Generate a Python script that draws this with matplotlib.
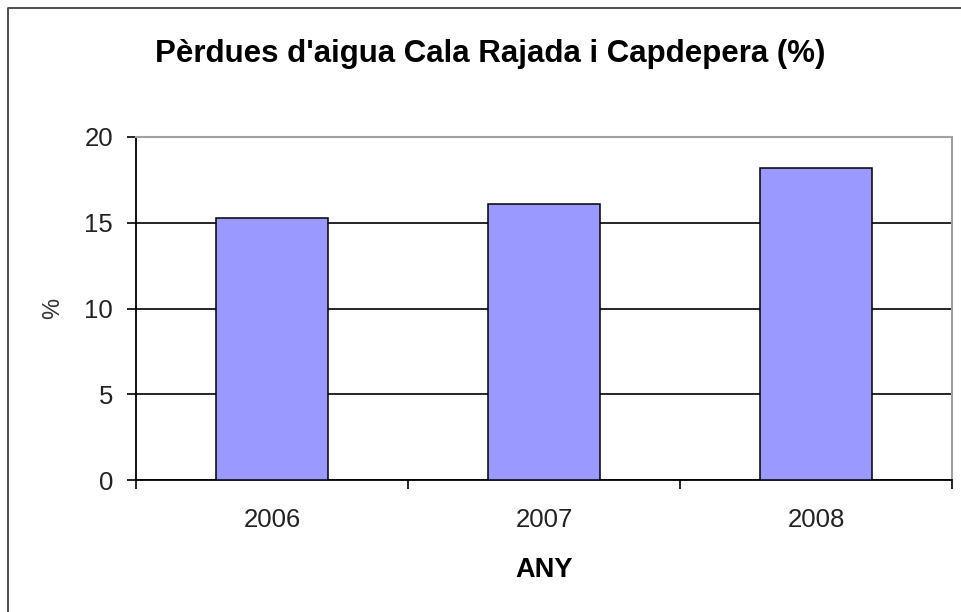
import numpy as np
import matplotlib
matplotlib.use("Agg")
import matplotlib.pyplot as plt
from matplotlib.lines import Line2D

plt.rcParams['font.family'] = ['Liberation Sans', 'DejaVu Sans']

# dades del gràfic
anys = ['2006', '2007', '2008']
perdues = [15.3, 16.1, 18.2]
yticks = [0, 5, 10, 15, 20]

W, H = 962, 612
fig = plt.figure(figsize=(W / 100, H / 100), dpi=100)
fig.patch.set_facecolor('white')

# marc exterior del gràfic (només es veuen la vora esquerra i la superior)
fig.add_artist(Line2D([8 / W, 8 / W, 1.0], [0.0, 1 - 8 / H, 1 - 8 / H],
                      transform=fig.transFigure, color='#404040', lw=1.3))

ax = fig.add_axes([136 / W, 1 - 480 / H, (952 - 136) / W, (480 - 137) / H])
x = np.arange(len(anys))
ax.bar(x, perdues, width=0.41, color='#9999FF', edgecolor='black', linewidth=1.1, zorder=3)

ax.set_xlim(-0.5, len(anys) - 0.5)
ax.set_ylim(0, 20)
ax.set_yticks(yticks)
ax.set_yticklabels([str(v) for v in yticks])

# ticks de l'eix x a les separacions de categories
ax.set_xticks(np.arange(len(anys) + 1) - 0.5)
ax.set_xticklabels([])
ax.set_xticks(x, minor=True)
ax.set_xticklabels(anys, minor=True)
ax.tick_params(axis='x', which='minor', length=0, pad=20, labelsize=18.5, labelcolor='#222222')
ax.tick_params(axis='x', which='major', direction='out', length=6.5, width=1.2, color='black')
ax.tick_params(axis='y', direction='out', length=6.5, width=1.2, pad=10, labelsize=18.5,
               labelcolor='#222222')

ax.yaxis.grid(True, color='black', lw=1.2)
ax.set_axisbelow(True)

for s in ['left', 'bottom']:
    ax.spines[s].set_color('black')
    ax.spines[s].set_linewidth(1.3)
for s in ['top', 'right']:
    ax.spines[s].set_color('#A0A0A0')
    ax.spines[s].set_linewidth(1.5)

ax.set_ylabel('%', fontsize=17, color='#333333')
ax.yaxis.set_label_coords((64 - 136) / 816, 0.5)
ax.set_xlabel('ANY', fontsize=19.5, fontweight='bold', labelpad=18)

fig.text(490 / W, 1 - 62 / H, "Pèrdues d'aigua Cala Rajada i Capdepera (%)",
         ha='center', va='baseline', fontsize=22.5, fontweight='bold')

fig.savefig('out.png', dpi=100)
